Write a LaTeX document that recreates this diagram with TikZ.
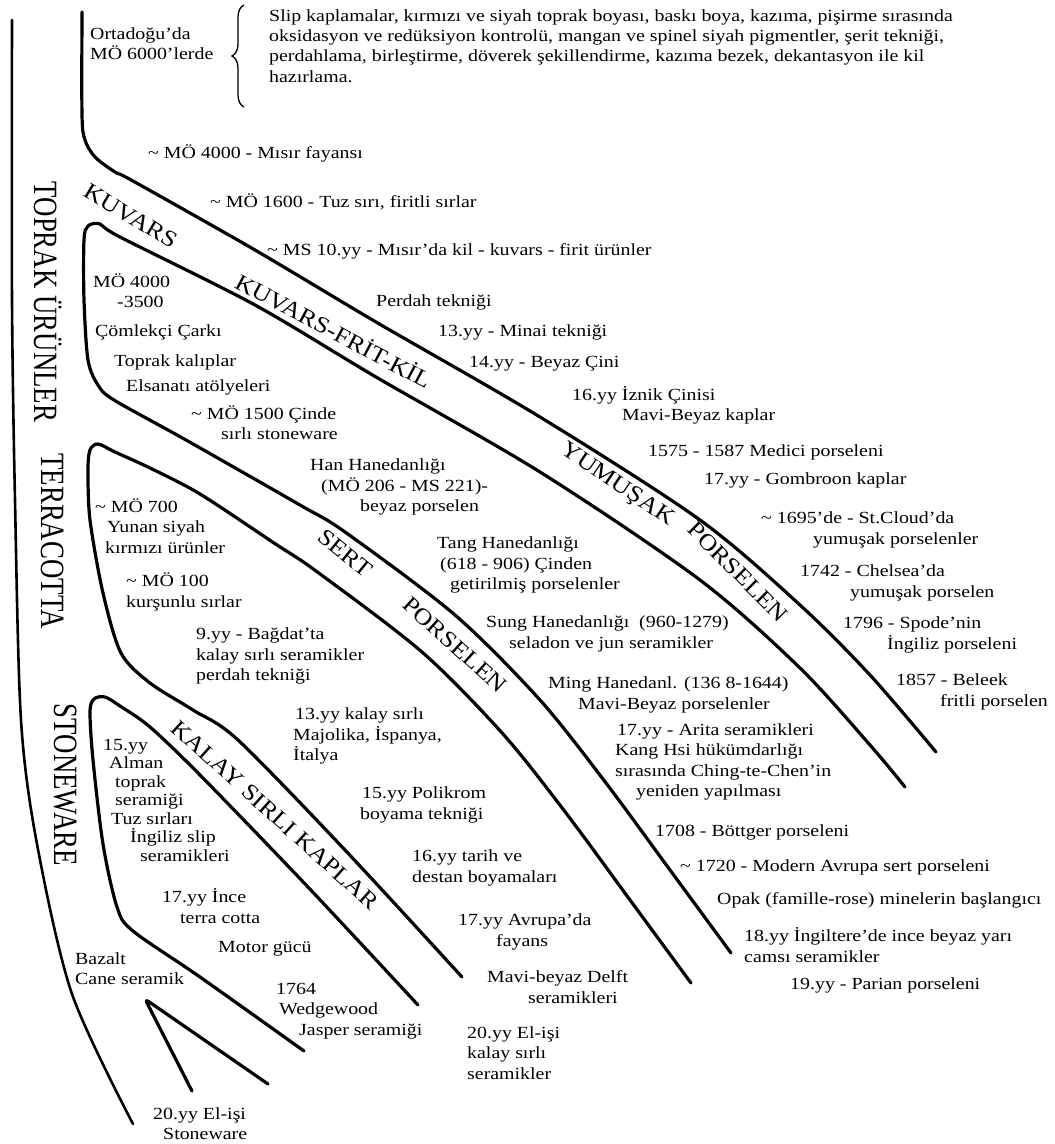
\documentclass[tikz,border=0pt]{standalone}
\usepackage{fontspec}
\setmainfont{Liberation Serif}[FakeStretch=1.17]
\newfontfamily\bandfont{Liberation Serif}[FakeStretch=1.13]
\newfontfamily\sidefont{Liberation Serif}[FakeStretch=0.79]
\usetikzlibrary{decorations.pathreplacing}
\newcommand*{\yaklasik}{\textasciitilde}
\tikzset{
  txt/.style={font=\fontsize{17}{20.3}\selectfont, inner sep=0pt, anchor=west, align=left},
  band/.style={line width=3.2pt, line cap=round, line join=round},
  bandlbl/.style={font=\bandfont\fontsize{23}{23}\selectfont, inner sep=0pt},
  sidelbl/.style={font=\sidefont\fontsize{34}{34}\selectfont, inner sep=0pt, rotate=-90}
}
\begin{document}
\begin{tikzpicture}[x=1pt,y=-1pt]
\useasboundingbox (0,0) rectangle (1055,1144);
\draw[band, line width=2.6pt] plot[smooth, tension=0.5] coordinates {(12,20) (12,300) (15,500) (21,720) (37,844) (72,994) (133,1124)};
\draw[band] plot[smooth, tension=0.5] coordinates {(82,12) (82,115) (85,140) (95,157) (115,172) (133,181) (255,250) (376,322) (540,417) (700,520) (800,605) (870,675) (936,752)};
\draw[band] plot[smooth, tension=0.5] coordinates {(905,787) (870,745) (800,668) (700,580) (540,472) (376,377) (255,305) (120,237) (100,224) (88,226) (84,240) (84,300) (88,360) (98,385) (114,400) (186,440) (300,505) (345,532) (455,615) (540,700) (606,783) (670,870) (731,953)};
\draw[band] plot[smooth, tension=0.5] coordinates {(691,983) (630,900) (566,813) (503,734) (422,652) (316,571) (274,543) (200,494) (150,468) (115,452) (98,444) (90,450) (88,470) (90,520) (103,593) (121,653) (150,683) (193,710) (238,740) (345,850) (462,977)};
\draw[band] plot[smooth, tension=0.5] coordinates {(304,1051) (200,977) (133,931) (117,907) (103,844) (93,760) (90,712) (94,699) (105,697) (120,706) (150,727) (201,776) (307,886) (418,1005)};
\draw[band, rounded corners=4pt] (192,1091) -- (145,999) -- (268,1084);
\draw[line width=1.3pt, decorate, decoration={brace, amplitude=12pt}] (244,107) -- (244,5);

\node[sidelbl] (toprak) at (48,302) {TOPRAK ÜRÜNLER};
\node[sidelbl] (terra) at (53,541) {TERRACOTTA};
\node[sidelbl] (stone) at (65,785) {STONEWARE};

\node[bandlbl, rotate=-31] (kuvars) at (131,216) {KUVARS};
\node[bandlbl, rotate=-28] (frit) at (334,330) {KUVARS-FRİT-KİL};
\node[bandlbl, rotate=-34] (yumusak) at (617,485) {YUMUŞAK};
\node[bandlbl, rotate=-45] (porselenA) at (738,572) {PORSELEN};
\node[bandlbl, rotate=-39] (sert) at (345,553) {SERT};
\node[bandlbl, rotate=-42] (porselenB) at (455,645) {PORSELEN};
\node[bandlbl, rotate=-42] (kalay) at (275,815) {KALAY SIRLI KAPLAR};

\node[txt] (ortadogu) at (90,44) {Ortadoğu'da\\MÖ 6000'lerde};
\node[txt] (onbilgi) at (269,46) {Slip kaplamalar, kırmızı ve siyah toprak boyası, baskı boya, kazıma, pişirme sırasında\\oksidasyon ve redüksiyon kontrolü, mangan ve spinel siyah pigmentler, şerit tekniği,\\perdahlama, birleştirme, döverek şekillendirme, kazıma bezek, dekantasyon ile kil\\hazırlama.};
\node[txt] (misir) at (148,153) {\yaklasik\ MÖ 4000 - Mısır fayansı};
\node[txt] (tuz) at (210,202) {\yaklasik\ MÖ 1600 - Tuz sırı, firitli sırlar};
\node[txt] (kilkuvars) at (267,251) {\yaklasik\ MS 10.yy - Mısır'da kil - kuvars - firit ürünler};
\node[txt] (perdah) at (376,302) {Perdah tekniği};
\node[txt] (minai) at (438,332) {13.yy - Minai tekniği};
\node[txt] (beyazcini) at (469,364) {14.yy - Beyaz Çini};
\node[txt] (iznik) at (572,405) {16.yy İznik Çinisi\\\hspace*{50pt}Mavi-Beyaz kaplar};
\node[txt] (medici) at (648,452) {1575 - 1587 Medici porseleni};
\node[txt] (gombroon) at (704,480) {17.yy - Gombroon kaplar};
\node[txt] (stcloud) at (761,530) {\yaklasik\ 1695'de - St.Cloud'da\\\hspace*{52pt}yumuşak porselenler};
\node[txt] (chelsea) at (800,583) {1742 - Chelsea'da\\\hspace*{50pt}yumuşak porselen};
\node[txt] (spode) at (843,635) {1796 - Spode'nin\\\hspace*{44pt}İngiliz porseleni};
\node[txt] (beleek) at (896,692) {1857 - Beleek\\\hspace*{44pt}fritli porselen};

\node[txt] (mo4000) at (93,291) {MÖ 4000\\\hspace*{24pt}-3500};
\node[txt] (carki) at (95,332) {Çömlekçi Çarkı};
\node[txt] (kaliplar) at (114,362) {Toprak kalıplar};
\node[txt] (atolye) at (126,387) {Elsanatı atölyeleri};
\node[txt] (cinde) at (191,423) {\yaklasik\ MÖ 1500 Çinde\\\hspace*{30pt}sırlı stoneware};
\node[txt] (han) at (310,487) {Han Hanedanlığı\\\hspace*{11pt}(MÖ 206 - MS 221)-\\\hspace*{50pt}beyaz porselen};
\node[txt] (tang) at (437,565) {Tang Hanedanlığı\\\hspace*{3pt}(618 - 906) Çinden\\\hspace*{13pt}getirilmiş porselenler};
\node[txt] (sung) at (486,634) {Sung Hanedanlığı\ \ (960-1279)\\\hspace*{23pt}seladon ve jun seramikler};
\node[txt] (ming) at (548,695) {Ming Hanedanl. (136 8-1644)\\\hspace*{30pt}Mavi-Beyaz porselenler};
\node[txt] (arita) at (615,762) {\hspace*{2pt}17.yy - Arita seramikleri\\Kang Hsi hükümdarlığı\\sırasında Ching-te-Chen'in\\\hspace*{21pt}yeniden yapılması};
\node[txt] (bottger) at (655,832) {1708 - Böttger porseleni};
\node[txt] (modern) at (680,867) {\yaklasik\ 1720 - Modern Avrupa sert porseleni};
\node[txt] (opak) at (717,900) {Opak (famille-rose) minelerin başlangıcı};
\node[txt] (ingiltere) at (744,945) {18.yy İngiltere'de ince beyaz yarı\\camsı seramikler};
\node[txt] (parian) at (790,985) {19.yy - Parian porseleni};

\node[txt] (yunan) at (95,526) {\yaklasik\ MÖ 700\\\hspace*{12pt}Yunan siyah\\\hspace*{10pt}kırmızı ürünler};
\node[txt] (kursun) at (126,592) {\yaklasik\ MÖ 100\\kurşunlu sırlar};
\node[txt] (bagdat) at (196,656) {9.yy - Bağdat'ta\\kalay sırlı seramikler\\perdah tekniği};
\node[txt] (majolika) at (293,736) {\hspace*{2pt}13.yy kalay sırlı\\Majolika, İspanya,\\İtalya};
\node[txt] (polikrom) at (360,805) {\hspace*{2pt}15.yy Polikrom\\boyama tekniği};
\node[txt] (destan) at (412,868) {16.yy tarih ve\\destan boyamaları};
\node[txt] (fayans) at (458,932) {17.yy Avrupa'da\\\hspace*{38pt}fayans};
\node[txt] (delft) at (487,987) {Mavi-beyaz Delft\\\hspace*{41pt}seramikleri};
\node[txt] (elisikalay) at (467,1053) {20.yy El-işi\\kalay sırlı\\seramikler};

\node[txt, font=\fontsize{17}{18.5}\selectfont] (alman) at (103,800) {15.yy\\\hspace*{6pt}Alman\\\hspace*{12pt}toprak\\\hspace*{12pt}seramiği\\\hspace*{8pt}Tuz sırları\\\hspace*{27pt}İngiliz slip\\\hspace*{37pt}seramikleri};
\node[txt] (ince) at (162,906) {17.yy İnce\\\hspace*{18pt}terra cotta};
\node[txt] (motor) at (218,949) {Motor gücü};
\node[txt] (jasper) at (276,1011) {1764\\\hspace*{3pt}Wedgewood\\\hspace*{23pt}Jasper seramiği};
\node[txt] (bazalt) at (75,969) {Bazalt\\Cane seramik};
\node[txt] (elisistone) at (153,1124) {20.yy El-işi\\\hspace*{10pt}Stoneware};
\end{tikzpicture}
\end{document}
